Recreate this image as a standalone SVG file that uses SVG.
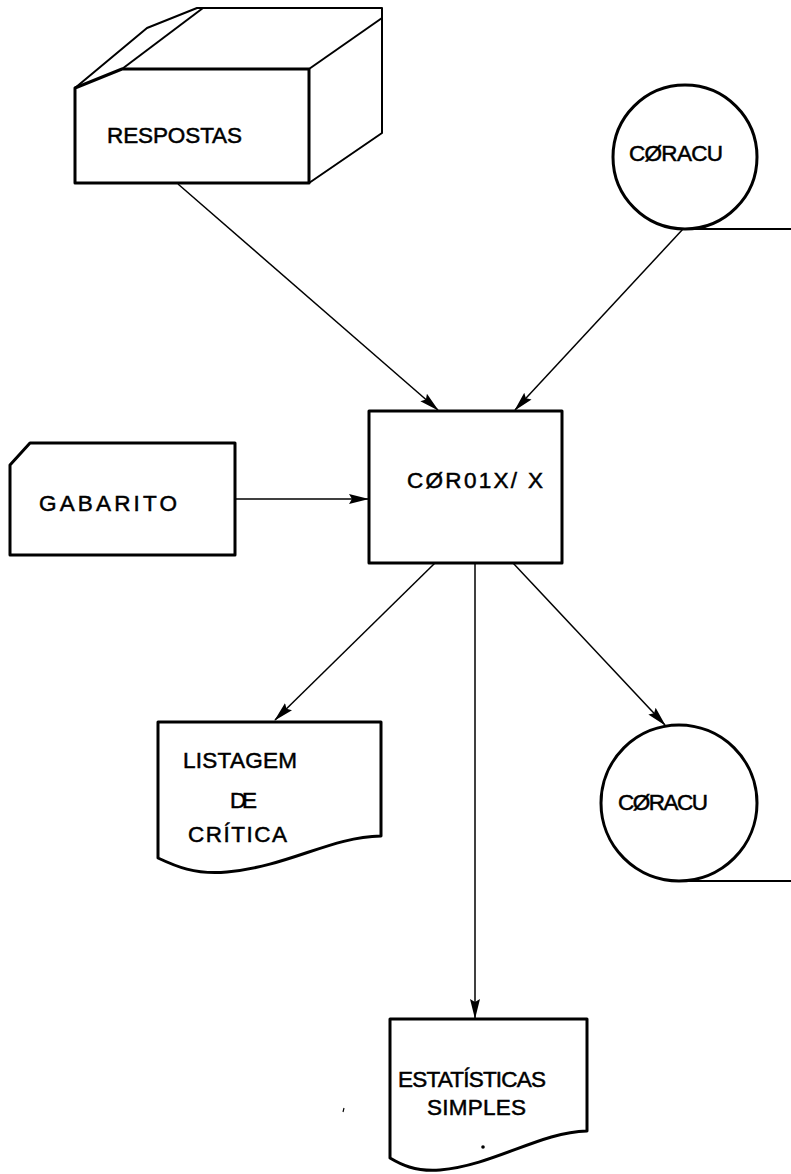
<svg xmlns="http://www.w3.org/2000/svg" width="791" height="1174" viewBox="0 0 791 1174">
  <style>
    .shape { fill: #fff; stroke: #000; stroke-width: 3; stroke-linejoin: round; }
    .edge { fill: none; stroke: #000; stroke-width: 2; stroke-linejoin: round; }
    .conn { fill: none; stroke: #000; stroke-width: 1.5; marker-end: url(#arrow); }
    .lbl { font-family: "Liberation Sans", "DejaVu Sans", Arial, sans-serif; font-size: 22.5px; fill: #000; stroke: #000; stroke-width: 0.5; }
  </style>
  <defs>
    <marker id="arrow" markerUnits="userSpaceOnUse" markerWidth="20" markerHeight="12" viewBox="0 0 20 12" refX="19" refY="6" orient="auto">
      <path d="M0,1 L20,6 L0,11 L3,6 Z" fill="#000"/>
    </marker>
  </defs>
  <rect width="791" height="1174" fill="#fff"/>

  <!-- connectors -->
  <g id="connectors">
    <line class="conn" x1="178" y1="184" x2="438" y2="410"/>
    <line class="conn" x1="683" y1="229" x2="515" y2="410"/>
    <line class="conn" x1="235" y1="499" x2="368" y2="499"/>
    <line class="conn" x1="435" y1="563" x2="275" y2="720"/>
    <line class="conn" x1="475" y1="563" x2="475" y2="1018"/>
    <line class="conn" x1="513" y1="563" x2="665" y2="725"/>
  </g>

  <!-- deck of cards: RESPOSTAS -->
  <g id="respostas">
    <path class="edge" d="M75,88 L147,28 L197,8 L382,8 L382,133 L309,183"/>
    <path class="edge" d="M122,69 L203,8"/>
    <path class="edge" d="M309,69 L382,18"/>
    <path class="shape" d="M75,88 L122,69 L309,69 L309,183 L75,183 Z"/>
    <text class="lbl" x="107" y="143" textLength="135" lengthAdjust="spacing">RESPOSTAS</text>
  </g>

  <!-- magnetic tape: input CØRACU -->
  <g id="coracu-in">
    <circle class="shape" cx="685" cy="157" r="72"/>
    <line class="edge" x1="685" y1="229" x2="791" y2="229" stroke-width="3"/>
    <text class="lbl" x="629" y="161" textLength="94" lengthAdjust="spacing">CØRACU</text>
  </g>

  <!-- punched card: GABARITO -->
  <g id="gabarito">
    <path class="shape" d="M30,443 L235,443 L235,555 L10,555 L10,465 Z"/>
    <text class="lbl" x="39" y="511" textLength="138" lengthAdjust="spacing">GABARITO</text>
  </g>

  <!-- process: CØR01X/X -->
  <g id="process">
    <rect class="shape" x="369" y="411" width="193" height="152"/>
    <text class="lbl" x="407" y="488" textLength="136" lengthAdjust="spacing">CØR01X/ X</text>
  </g>

  <!-- printed report: LISTAGEM DE CRÍTICA -->
  <g id="listagem">
    <path class="shape" d="M158,722 L381,722 L381,836 C330,837 290,866 227,872 C195,875 175,866 158,858 Z"/>
    <text class="lbl" x="183" y="768" textLength="114" lengthAdjust="spacing">LISTAGEM</text>
    <text class="lbl" x="230" y="808" textLength="27" lengthAdjust="spacing">DE</text>
    <text class="lbl" x="188" y="842" textLength="99" lengthAdjust="spacing">CRÍTICA</text>
  </g>

  <!-- magnetic tape: output CØRACU -->
  <g id="coracu-out">
    <circle class="shape" cx="679" cy="803" r="78"/>
    <line class="edge" x1="679" y1="881" x2="791" y2="881" stroke-width="3"/>
    <text class="lbl" x="618" y="810" textLength="90" lengthAdjust="spacing">CØRACU</text>
  </g>

  <!-- printed report: ESTATÍSTICAS SIMPLES -->
  <g id="estatisticas">
    <path class="shape" d="M390,1019 L587,1019 L587,1131 C540,1132 495,1165 440,1170 C415,1172 400,1164 390,1158 Z"/>
    <text class="lbl" x="398" y="1087" textLength="148" lengthAdjust="spacing">ESTATÍSTICAS</text>
    <text class="lbl" x="427" y="1115" textLength="99" lengthAdjust="spacing">SIMPLES</text>
    <circle cx="483" cy="1147" r="1.8" fill="#000"/>
  </g>
  <path d="M344,1108 L343,1112" stroke="#000" stroke-width="1.2"/>
</svg>
